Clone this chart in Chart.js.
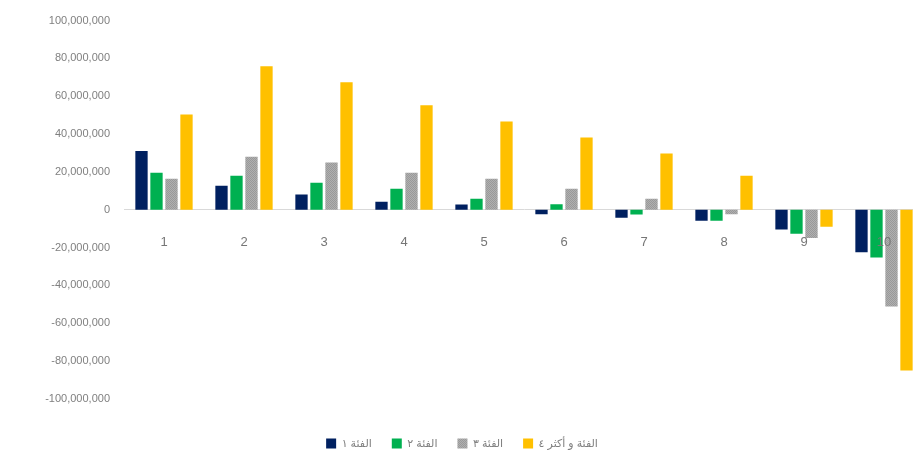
<!DOCTYPE html>
<html>
<head>
<meta charset="utf-8">
<script src="https://cdn.jsdelivr.net/npm/chart.js@4/dist/chart.umd.min.js"></script>
<style>
  html, body { margin: 0; padding: 0; background: #fff; overflow: hidden; }
  #wrap { width: 935px; height: 459px; }
</style>
</head>
<body>
<div id="wrap"><canvas id="bars" width="935" height="459"></canvas></div>
<script>
const categories = ['1', '2', '3', '4', '5', '6', '7', '8', '9', '10'];
const seriesNames = ['الفئة ١', 'الفئة ٢', 'الفئة ٣', 'الفئة و أكثر ٤'];
const cat1 = [31000000, 12700000, 8000000, 4200000, 2700000, -2400000, -4200000, -5800000, -10500000, -22500000];
const cat2 = [19500000, 18000000, 14300000, 11100000, 5800000, 2900000, -2600000, -5800000, -12700000, -25300000];
const cat3 = [16400000, 28000000, 25000000, 19600000, 16400000, 11100000, 5800000, -2400000, -14900000, -51200000];
const cat4 = [50300000, 75800000, 67400000, 55200000, 46700000, 38200000, 29700000, 18000000, -9000000, -85000000];
const yTicks = [100000000, 80000000, 60000000, 40000000, 20000000, 0, -20000000, -40000000, -60000000, -80000000, -100000000];

// speckled grey like the original fill
function greyPattern() {
  const c = document.createElement('canvas');
  c.width = 2; c.height = 2;
  const g = c.getContext('2d');
  g.fillStyle = '#b0b0b0'; g.fillRect(0, 0, 2, 2);
  g.fillStyle = '#999999'; g.fillRect(0, 0, 1, 1); g.fillRect(1, 1, 1, 1);
  return g.createPattern(c, 'repeat');
}

const ctx = document.getElementById('bars').getContext('2d');
const fontFam = "'Liberation Sans', 'DejaVu Sans', Arial, sans-serif";

new Chart(ctx, {
  type: 'bar',
  data: {
    labels: categories,
    datasets: [
      { label: seriesNames[0], data: cat1, backgroundColor: '#002060' },
      { label: seriesNames[1], data: cat2, backgroundColor: '#00B050' },
      { label: seriesNames[2], data: cat3, backgroundColor: greyPattern() },
      { label: seriesNames[3], data: cat4, backgroundColor: '#FFC000' }
    ]
  },
  options: {
    responsive: false,
    animation: false,
    layout: { padding: { left: 0, right: 11, top: 19, bottom: 0 } },
    datasets: { bar: { categoryPercentage: 0.75, barPercentage: 0.82 } },
    scales: {
      x: {
        position: { y: 0 },
        grid: { display: false, drawTicks: false },
        border: { display: true, color: '#d9d9d9', width: 1 },
        ticks: { z: 1, padding: 25, color: '#767676', font: { family: fontFam, size: 13 } }
      },
      y: {
        min: -100000000,
        max: 100000000,
        afterBuildTicks: s => { s.ticks = yTicks.map(v => ({ value: v })); },
        afterFit: s => { s.width = 124; },
        grid: { display: false, drawTicks: false },
        border: { display: false },
        ticks: {
          padding: 14,
          color: '#7f7f7f',
          font: { family: fontFam, size: 11 },
          callback: v => v.toLocaleString('en-US')
        }
      }
    },
    plugins: {
      tooltip: { enabled: false },
      legend: {
        position: 'bottom',
        title: { display: true, text: ' ', font: { size: 1 }, padding: { top: 0, bottom: 18 } },
        labels: {
          boxWidth: 10,
          boxHeight: 10,
          padding: 20,
          color: '#7f7f7f',
          font: { family: fontFam, size: 11 }
        }
      }
    }
  }
});
</script>
</body>
</html>
